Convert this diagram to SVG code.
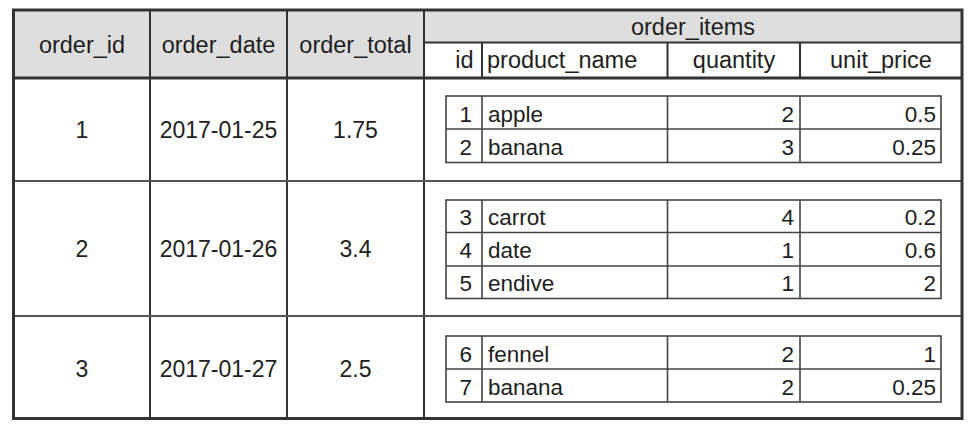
<svg xmlns="http://www.w3.org/2000/svg" width="975" height="434" viewBox="0 0 975 434">
  <style>
    text { font-family: "Liberation Sans", Arial, sans-serif; fill: #1e1e1e; }
    .h { font-size: 23.5px; text-anchor: middle; }
    .v { font-size: 23px; text-anchor: middle; }
    .c { font-size: 22.5px; }
    .e { text-anchor: end; }
    .grid { stroke: #333; stroke-width: 2; fill: none; }
    .sep { stroke: #555; stroke-width: 2.2; fill: none; }
    .inner { stroke: #444; stroke-width: 1.6; fill: none; }
  </style>
  <rect width="975" height="434" fill="#fff"/>

  <g id="header">
    <rect x="13.5" y="10" width="410.5" height="68" fill="#dedede"/>
    <rect x="424" y="10" width="538" height="32.5" fill="#dedede"/>
    <line class="grid" x1="424" y1="42.5" x2="962" y2="42.5"/>
    <line class="grid" x1="482" y1="42.5" x2="482" y2="78"/>
    <line class="grid" x1="667.5" y1="42.5" x2="667.5" y2="78"/>
    <line class="grid" x1="800" y1="42.5" x2="800" y2="78"/>
    <text class="h" x="82" y="53">order_id</text>
    <text class="h" x="218.5" y="53">order_date</text>
    <text class="h" x="355.5" y="53">order_total</text>
    <text class="h" x="693" y="35">order_items</text>
    <text class="h" x="464.5" y="68">id</text>
    <text class="h" x="487" y="68" style="text-anchor:start">product_name</text>
    <text class="h" x="734" y="68">quantity</text>
    <text class="h" x="881" y="68">unit_price</text>
  </g>

  <g id="grid-lines">
    <line class="grid" x1="150" y1="10" x2="150" y2="418.5"/>
    <line class="grid" x1="287" y1="10" x2="287" y2="418.5"/>
    <line class="grid" x1="424" y1="10" x2="424" y2="418.5"/>
    <line class="sep" x1="13.5" y1="181" x2="962" y2="181"/>
    <line class="sep" x1="13.5" y1="316" x2="962" y2="316"/>
    <line stroke="#333" stroke-width="3" x1="13.5" y1="78" x2="962" y2="78"/>
    <rect x="13.5" y="10" width="948.5" height="408.5" fill="none" stroke="#333" stroke-width="3"/>
  </g>

  <g id="order-1">
    <text class="v" x="82" y="138">1</text>
    <text class="v" x="218.5" y="138">2017-01-25</text>
    <text class="v" x="355.5" y="138">1.75</text>
    <g id="items-1">
      <rect class="inner" x="446" y="96" width="495" height="66.5"/>
      <line class="inner" x1="446" y1="129" x2="941" y2="129"/>
      <line class="inner" x1="482" y1="96" x2="482" y2="162.5"/>
      <line class="inner" x1="667.5" y1="96" x2="667.5" y2="162.5"/>
      <line class="inner" x1="800" y1="96" x2="800" y2="162.5"/>
      <text class="c e" x="472" y="122">1</text>
      <text class="c" x="488" y="122">apple</text>
      <text class="c e" x="794" y="122">2</text>
      <text class="c e" x="936" y="122">0.5</text>
      <text class="c e" x="472" y="155">2</text>
      <text class="c" x="488" y="155">banana</text>
      <text class="c e" x="794" y="155">3</text>
      <text class="c e" x="936" y="155">0.25</text>
    </g>
  </g>

  <g id="order-2">
    <text class="v" x="82" y="257">2</text>
    <text class="v" x="218.5" y="257">2017-01-26</text>
    <text class="v" x="355.5" y="257">3.4</text>
    <g id="items-2">
      <rect class="inner" x="446" y="200" width="495" height="98.5"/>
      <line class="inner" x1="446" y1="232.5" x2="941" y2="232.5"/>
      <line class="inner" x1="446" y1="266" x2="941" y2="266"/>
      <line class="inner" x1="482" y1="200" x2="482" y2="298.5"/>
      <line class="inner" x1="667.5" y1="200" x2="667.5" y2="298.5"/>
      <line class="inner" x1="800" y1="200" x2="800" y2="298.5"/>
      <text class="c e" x="472" y="225">3</text>
      <text class="c" x="488" y="225">carrot</text>
      <text class="c e" x="794" y="225">4</text>
      <text class="c e" x="936" y="225">0.2</text>
      <text class="c e" x="472" y="258">4</text>
      <text class="c" x="488" y="258">date</text>
      <text class="c e" x="794" y="258">1</text>
      <text class="c e" x="936" y="258">0.6</text>
      <text class="c e" x="472" y="291">5</text>
      <text class="c" x="488" y="291">endive</text>
      <text class="c e" x="794" y="291">1</text>
      <text class="c e" x="936" y="291">2</text>
    </g>
  </g>

  <g id="order-3">
    <text class="v" x="82" y="377">3</text>
    <text class="v" x="218.5" y="377">2017-01-27</text>
    <text class="v" x="355.5" y="377">2.5</text>
    <g id="items-3">
      <rect class="inner" x="446" y="336" width="495" height="66"/>
      <line class="inner" x1="446" y1="369" x2="941" y2="369"/>
      <line class="inner" x1="482" y1="336" x2="482" y2="402"/>
      <line class="inner" x1="667.5" y1="336" x2="667.5" y2="402"/>
      <line class="inner" x1="800" y1="336" x2="800" y2="402"/>
      <text class="c e" x="472" y="362">6</text>
      <text class="c" x="488" y="362">fennel</text>
      <text class="c e" x="794" y="362">2</text>
      <text class="c e" x="936" y="362">1</text>
      <text class="c e" x="472" y="395">7</text>
      <text class="c" x="488" y="395">banana</text>
      <text class="c e" x="794" y="395">2</text>
      <text class="c e" x="936" y="395">0.25</text>
    </g>
  </g>
</svg>
